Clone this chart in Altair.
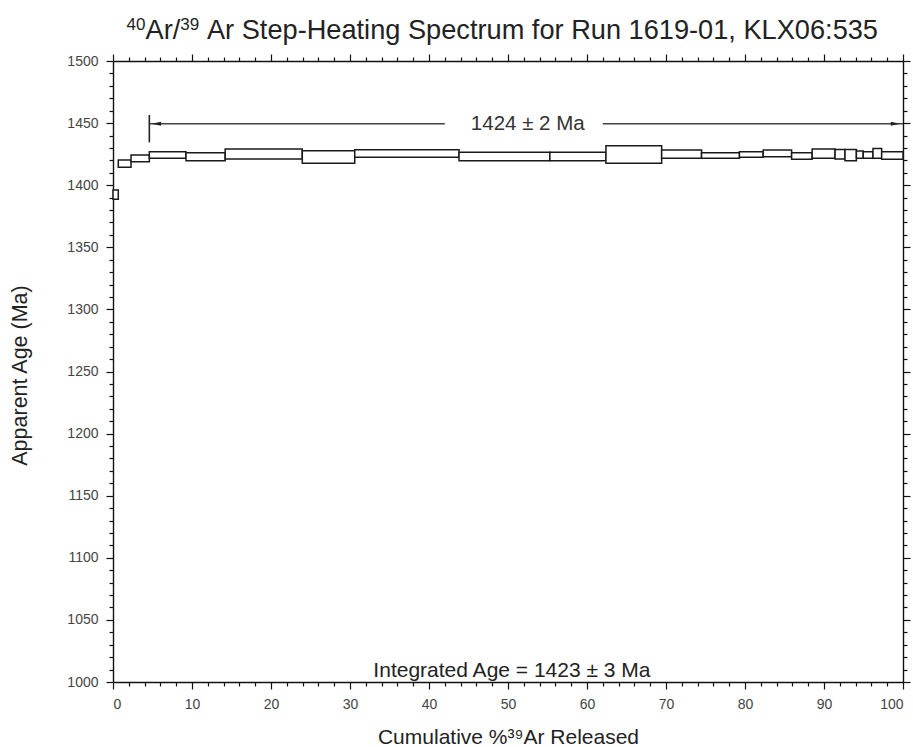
import altair as alt
import pandas as pd

# Step-heating spectrum: cumulative % 39Ar released (step edges) and apparent age band (Ma)
cum_start = [0.0, 0.67, 2.28, 4.6, 9.24, 14.2, 23.96, 30.6, 43.8, 55.3, 62.4, 69.45,
             74.5, 79.3, 82.3, 85.9, 88.5, 91.4, 92.66, 94.1, 94.97, 96.2, 97.3]
cum_end = [0.67, 2.28, 4.6, 9.24, 14.2, 23.96, 30.6, 43.8, 55.3, 62.4, 69.45, 74.5,
           79.3, 82.3, 85.9, 88.5, 91.4, 92.66, 94.1, 94.97, 96.2, 97.3, 100.0]
age_low = [1388.6, 1414.4, 1418.9, 1421.6, 1419.7, 1421.1, 1417.6, 1422.5, 1419.7, 1419.7,
           1417.6, 1421.6, 1421.6, 1422.5, 1423.0, 1420.9, 1421.6, 1421.0, 1419.7, 1421.6,
           1421.6, 1421.6, 1420.9]
age_high = [1396.1, 1420.3, 1424.3, 1427.0, 1426.2, 1429.1, 1427.8, 1428.5, 1426.5, 1426.5,
            1431.8, 1428.3, 1426.2, 1427.0, 1428.3, 1426.2, 1429.1, 1428.8, 1428.8, 1427.5,
            1427.0, 1429.6, 1427.0]

# Plateau annotation
plateau_start = [4.6]
plateau_end = [100.0]
plateau_label = ["1424 ± 2 Ma"]
plateau_label_x = [52.5]
plateau_gap = [42.0, 62.0]
plateau_arrow_age = [1449.5]
plateau_tick_age = [1434.5, 1456.5]

integrated_label = ["Integrated Age = 1423 ± 3 Ma"]
integrated_x = [50.5]
integrated_age = [1004.0]

# Title pieces (superscript isotope masses)
title_parts = ["40", "Ar/", "39", " Ar Step-Heating Spectrum for Run 1619-01, KLX06:535"]
title_is_sup = [True, False, True, False]

x_ticks = list(range(0, 101, 2))
y_ticks = list(range(1000, 1501, 10))

FONT = "Liberation Sans"

steps = pd.DataFrame({"x0": cum_start, "x1": cum_end, "lo": age_low, "hi": age_high})

xs = alt.Scale(domain=[0, 100], nice=False, zero=False)
ys = alt.Scale(domain=[1000, 1500], nice=False, zero=False)

common_axis = dict(grid=False, domainColor="#111", domainWidth=1.4, tickColor="#111",
                   tickWidth=1.2, labelFont=FONT, labelColor="#444", labelFontSize=14,
                   titleFont=FONT, titleColor="#222", titleFontWeight="normal",
                   labelOverlap=False)

x_axis_bottom = alt.Axis(
    orient="bottom", values=x_ticks, format="d",
    labelExpr="datum.value % 10 === 0 ? datum.label : ''",
    tickSize={"condition": {"test": "datum.value % 10 === 0", "value": 7}, "value": 4},
    labelPadding=8, titleFontSize=21, titleX=395, titleY=61,
    titleBaseline="alphabetic", **common_axis)
y_axis_left = alt.Axis(
    orient="left", values=y_ticks, format="d",
    labelExpr="datum.value % 50 === 0 ? datum.label : ''",
    tickSize={"condition": {"test": "datum.value % 50 === 0", "value": 7}, "value": 4},
    labelPadding=8, titleFontSize=21.5, titleX=-93, titleY=314, titleAngle=-90,
    titleBaseline="middle", titleAlign="center", **common_axis)
x_axis_top = alt.Axis(
    orient="top", values=x_ticks, labels=False, title=None,
    tickSize={"condition": {"test": "datum.value % 10 === 0", "value": 7}, "value": 4},
    **common_axis)
y_axis_right = alt.Axis(
    orient="right", values=y_ticks, labels=False, title=None,
    tickSize={"condition": {"test": "datum.value % 50 === 0", "value": 7}, "value": 4},
    **common_axis)

rects = alt.Chart(steps).mark_rect(fill="white", stroke="#1a1a1a", strokeWidth=1.5).encode(
    x=alt.X("x0:Q", scale=xs, axis=x_axis_bottom, title="Cumulative %³⁹Ar Released"),
    x2="x1:Q",
    y=alt.Y("lo:Q", scale=ys, axis=y_axis_left, title="Apparent Age (Ma)"),
    y2="hi:Q",
)

seg = pd.DataFrame({"a": [plateau_start[0], plateau_gap[1]],
                    "b": [plateau_gap[0], plateau_end[0]],
                    "y": [plateau_arrow_age[0]] * 2})
arrow_line = alt.Chart(seg).mark_rule(color="#444", strokeWidth=1.5).encode(
    x=alt.X("a:Q", scale=xs, axis=x_axis_top),
    x2="b:Q",
    y=alt.Y("y:Q", scale=ys, axis=y_axis_right),
)

tick_df = pd.DataFrame({"x": plateau_start, "y0": [plateau_tick_age[0]], "y1": [plateau_tick_age[1]]})
start_tick = alt.Chart(tick_df).mark_rule(color="#222", strokeWidth=1.6).encode(
    x=alt.X("x:Q", scale=xs, axis=None),
    y=alt.Y("y0:Q", scale=ys, axis=None),
    y2="y1:Q",
)

left_head = alt.Chart(pd.DataFrame({"x": plateau_start, "y": plateau_arrow_age})).mark_point(
    shape="M -1 0 L 1 -0.42 L 1 0.42 Z", filled=True, color="#222", opacity=1, size=90,
    xOffset=7).encode(
    x=alt.X("x:Q", scale=xs, axis=None), y=alt.Y("y:Q", scale=ys, axis=None))
right_head = alt.Chart(pd.DataFrame({"x": plateau_end, "y": plateau_arrow_age})).mark_point(
    shape="M 1 0 L -1 -0.42 L -1 0.42 Z", filled=True, color="#222", opacity=1, size=90,
    xOffset=-7.5).encode(
    x=alt.X("x:Q", scale=xs, axis=None), y=alt.Y("y:Q", scale=ys, axis=None))

plateau_text = alt.Chart(pd.DataFrame({"x": plateau_label_x, "y": plateau_arrow_age,
                                       "t": plateau_label})).mark_text(
    font=FONT, fontSize=20.5, color="#333", baseline="middle", align="center").encode(
    x=alt.X("x:Q", scale=xs, axis=None), y=alt.Y("y:Q", scale=ys, axis=None), text="t:N")

integ_text = alt.Chart(pd.DataFrame({"x": integrated_x, "y": integrated_age,
                                     "t": integrated_label})).mark_text(
    font=FONT, fontSize=21, color="#222", baseline="alphabetic", align="center").encode(
    x=alt.X("x:Q", scale=xs, axis=None), y=alt.Y("y:Q", scale=ys, axis=None), text="t:N")

# Title drawn as chained right-aligned pieces (pixel offsets relative to plot origin),
# widths from Liberation Sans (Arial-compatible) advance widths
T_SIZE = 27.2
S_SIZE = 17
title_right = 765
w_main = 24.957 * T_SIZE
w_sup = 1.112 * S_SIZE
w_arsl = 1.278 * T_SIZE
rights = [title_right - w_main - w_sup - w_arsl, title_right - w_main - w_sup,
          title_right - w_main, title_right]
title_layers = []
for txt, sup, r in zip(title_parts, title_is_sup, rights):
    title_layers.append(
        alt.Chart(pd.DataFrame({"t": [txt]})).mark_text(
            font=FONT, fontSize=S_SIZE if sup else T_SIZE, color="#222",
            align="right", baseline="alphabetic").encode(
            text="t:N", x=alt.value(r), y=alt.value(-31 if sup else -22)))

chart = alt.layer(rects, arrow_line, start_tick, left_head, right_head, plateau_text,
                  integ_text, *title_layers).resolve_axis(
    x="independent", y="independent").properties(
    width=790, height=621,
    autosize=alt.AutoSizeParams(type="none"),
    padding={"left": 113, "top": 61, "right": 10, "bottom": 65},
).configure_view(stroke=None).configure(background="white")

chart.save("out.html", embed_options={"renderer": "svg", "actions": False})
